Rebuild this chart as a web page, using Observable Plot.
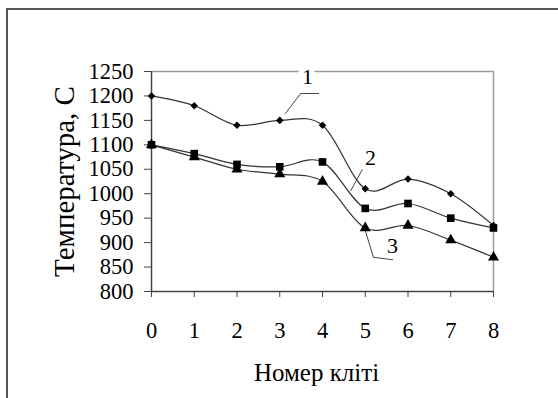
<!DOCTYPE html>
<html><head><meta charset="utf-8">
<script src="https://cdn.jsdelivr.net/npm/d3@7"></script>
<script src="https://cdn.jsdelivr.net/npm/@observablehq/plot@0.6"></script>
<style>
body{margin:0;background:#fff;}
#wrap{position:relative;width:558px;height:398px;overflow:hidden;background:#fff;}
#frame{position:absolute;left:6px;top:8px;width:600px;height:500px;border-left:2px solid #555;border-top:2px solid #555;}
#wrap svg{position:absolute;left:0;top:0;}
</style></head>
<body><div id="wrap"><div id="frame"></div></div>
<script>
const stands = [0, 1, 2, 3, 4, 5, 6, 7, 8];
const temp1 = [1200, 1180, 1140, 1150, 1140, 1010, 1030, 1000, 935];
const temp2 = [1100, 1082, 1060, 1055, 1065, 970, 980, 950, 930];
const temp3 = [1100, 1075, 1050, 1040, 1025, 930, 935, 905, 870];
const yTicks = [800, 850, 900, 950, 1000, 1050, 1100, 1150, 1200, 1250];
const xTicks = [0, 1, 2, 3, 4, 5, 6, 7, 8];
const xTitle = "Номер кліті";
const yTitle = "Температура, С";
const seriesNames = ["1", "2", "3"];
const seriesSymbols = ["diamond2", "square", "triangle"];
const seriesR = [3.4, 4.3, 4.1];
// annotation label positions (data units)
const labelX = [3.65, 5.12, 5.64];
const labelY = [1238, 1074, 894];
// leader lines (data units)
const leaderId = ["1", "1", "1", "2", "2", "2", "3", "3", "3"];
const leaderX = [3.13, 3.49, 3.91, 4.66, 4.96, 5.29, 5.0, 5.19, 5.64];
const leaderY = [1164, 1205, 1205, 1006, 1054, 1054, 925, 870, 865];

const allSeries = [temp1, temp2, temp3];
const points = allSeries.flatMap((vals, s) => stands.map((x, i) => ({x, y: vals[i], s: seriesNames[s]})));
const labels = seriesNames.map((n, i) => ({n, x: labelX[i], y: labelY[i]}));
const leaders = leaderId.map((id, i) => ({id, x: leaderX[i], y: leaderY[i]}));
const font = "Liberation Serif, Times New Roman, serif";

const marks = [
  Plot.ruleY([1250], {stroke: "#9a9a9a", strokeWidth: 1.5}),
  Plot.ruleX([8], {stroke: "#9a9a9a", strokeWidth: 1.5}),
  Plot.ruleX([0], {stroke: "#444", strokeWidth: 1.5}),
  Plot.ruleY([800], {stroke: "#444", strokeWidth: 1.5}),
  Plot.axisY({ticks: yTicks, tickSize: 7, tickPadding: 11, tickFormat: d => String(d), fontSize: 22.5, stroke: "#444", fill: "#000", label: null}),
  Plot.axisX({ticks: xTicks, tickSize: 6, tickPadding: 25, tickFormat: d => String(d), fontSize: 22.5, stroke: "#444", fill: "#000", label: null}),
  Plot.line(leaders, {x: "x", y: "y", z: "id", stroke: "#444", strokeWidth: 1}),
  ...seriesNames.map((n, s) => Plot.line(points.filter(p => p.s === n), {x: "x", y: "y", curve: "cardinal", tension: 0, stroke: "#333", strokeWidth: 1.2})),
  ...seriesNames.map((n, s) => Plot.dot(points.filter(p => p.s === n), {x: "x", y: "y", symbol: () => seriesSymbols[s], r: seriesR[s], fill: "#000", stroke: "none"})),
  Plot.text(labels, {x: "x", y: "y", text: "n", fontSize: 22, fill: "#000", stroke: "white", strokeWidth: 11, paintOrder: "stroke", lineAnchor: "middle"}),
  Plot.text([xTitle], {frameAnchor: "bottom", textAnchor: "middle", dx: -6, dy: 89, lineAnchor: "bottom", fontSize: 25, fill: "#000"}),
  Plot.text([yTitle], {frameAnchor: "left", textAnchor: "middle", rotate: -90, dx: -87, dy: 0, lineAnchor: "middle", fontSize: 29, fill: "#000"})
];

const chart = Plot.plot({
  width: 558, height: 398,
  marginLeft: 151, marginRight: 65, marginTop: 71, marginBottom: 107,
  style: {fontFamily: font, background: "transparent", color: "#000"},
  x: {domain: [0, 8]},
  y: {domain: [800, 1250]},
  symbol: {type: "identity"},
  marks
});
document.getElementById("wrap").appendChild(chart);
</script>
</body></html>
